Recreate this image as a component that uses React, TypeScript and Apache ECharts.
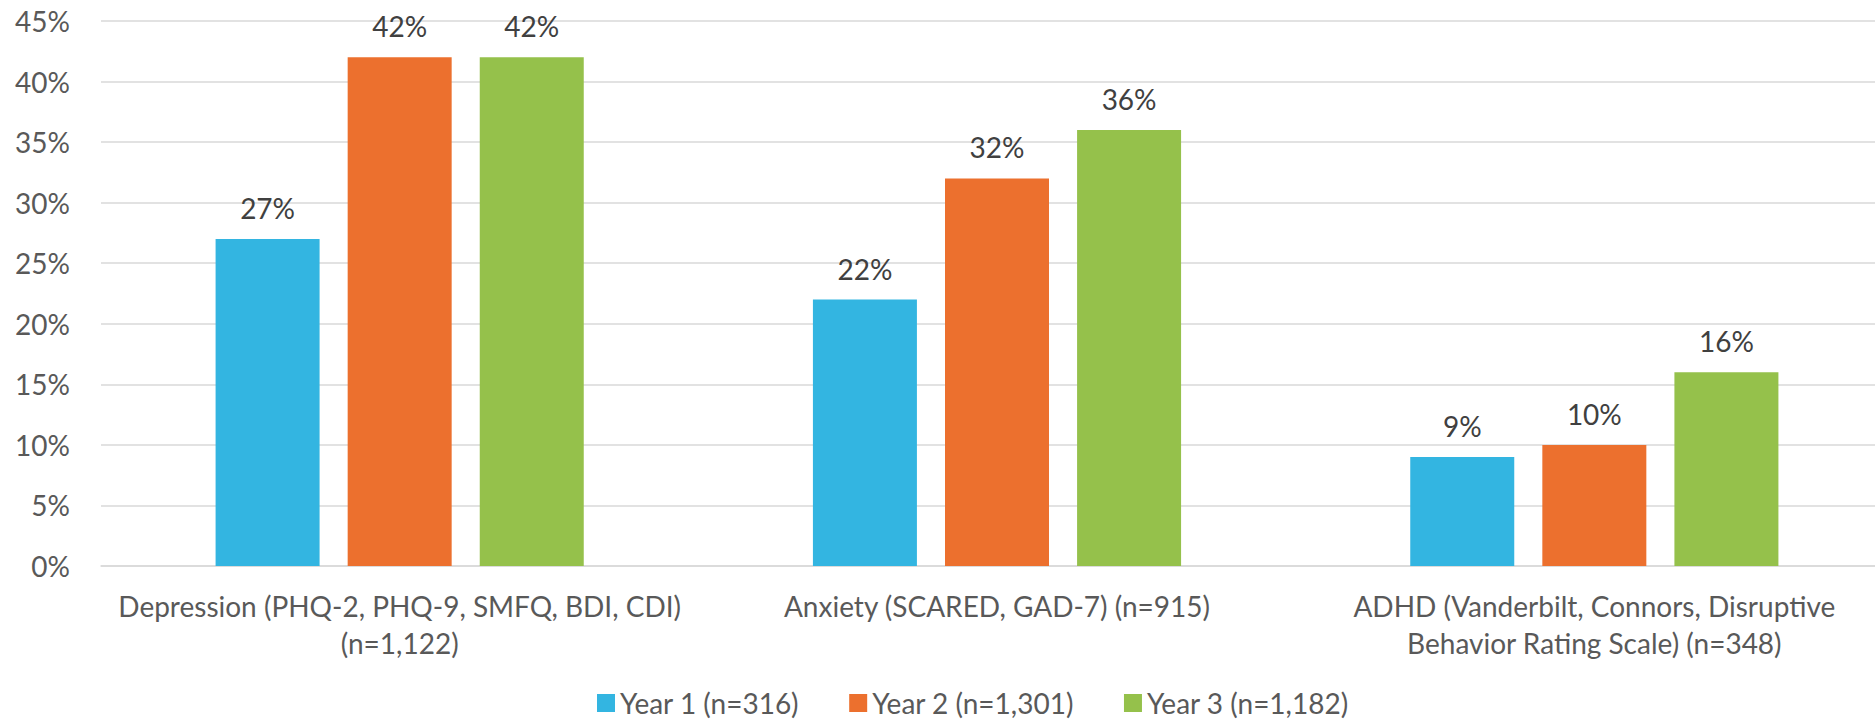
import React, { useEffect, useRef } from "react";
import * as echarts from "echarts";

const categories = [
  "Depression (PHQ-2, PHQ-9, SMFQ, BDI, CDI)\n(n=1,122)",
  "Anxiety (SCARED, GAD-7) (n=915)",
  "ADHD (Vanderbilt, Connors, Disruptive\nBehavior Rating Scale) (n=348)",
];
const seriesNames = ["Year 1 (n=316)", "Year 2 (n=1,301)", "Year 3 (n=1,182)"];
const year1 = [27, 22, 9];
const year2 = [42, 32, 10];
const year3 = [42, 36, 16];
const colors = ["#33B5E1", "#EC702E", "#95C14B"];
const yMin = 0;
const yMax = 45;
const yInterval = 5;

const FONT = "Lato";
const FS = 28;

export default function App() {
  const ref = useRef<HTMLDivElement>(null);
  useEffect(() => {
    if (!ref.current) return;
    const chart = echarts.init(ref.current, undefined, { renderer: "svg" });
    const seriesData = [year1, year2, year3];
    chart.setOption({
      animation: false,
      textStyle: { fontFamily: FONT },
      grid: {
        left: 101,
        width: 1792,
        top: 21,
        height: 545,
        containLabel: false,
        outerBoundsMode: "none",
      },
      legend: {
        data: seriesNames,
        top: 684,
        left: 592,
        icon: "rect",
        itemWidth: 18,
        itemHeight: 18,
        itemGap: 50,
        textStyle: { fontFamily: FONT, fontSize: FS, color: "#595959" },
      },
      xAxis: {
        type: "category",
        data: categories,
        axisLine: { show: true, lineStyle: { color: "#D9D9D9", width: 1.5 } },
        axisTick: { show: false },
        axisLabel: {
          interval: 0,
          margin: 21,
          fontFamily: FONT,
          fontSize: FS,
          lineHeight: 37,
          color: "#595959",
          align: "center",
        },
      },
      yAxis: {
        type: "value",
        min: yMin,
        max: yMax,
        interval: yInterval,
        axisLine: { show: false },
        axisTick: { show: false },
        splitLine: { lineStyle: { color: "#D9D9D9", width: 1.5 } },
        axisLabel: {
          formatter: "{value}%",
          margin: 31,
          fontFamily: FONT,
          fontSize: FS,
          color: "#595959",
        },
      },
      series: seriesNames.map((name, i) => ({
        name,
        type: "bar",
        data: seriesData[i],
        barWidth: 104,
        barGap: "27%",
        itemStyle: { color: colors[i] },
        label: {
          show: true,
          position: "top",
          distance: 17,
          formatter: "{c}%",
          fontFamily: FONT,
          fontSize: FS,
          color: "#404040",
        },
      })),
    });
    return () => chart.dispose();
  }, []);
  return (
    <div
      ref={ref}
      style={{ position: "fixed", left: 0, top: 0, width: 1875, height: 724, background: "#fff" }}
    />
  );
}
